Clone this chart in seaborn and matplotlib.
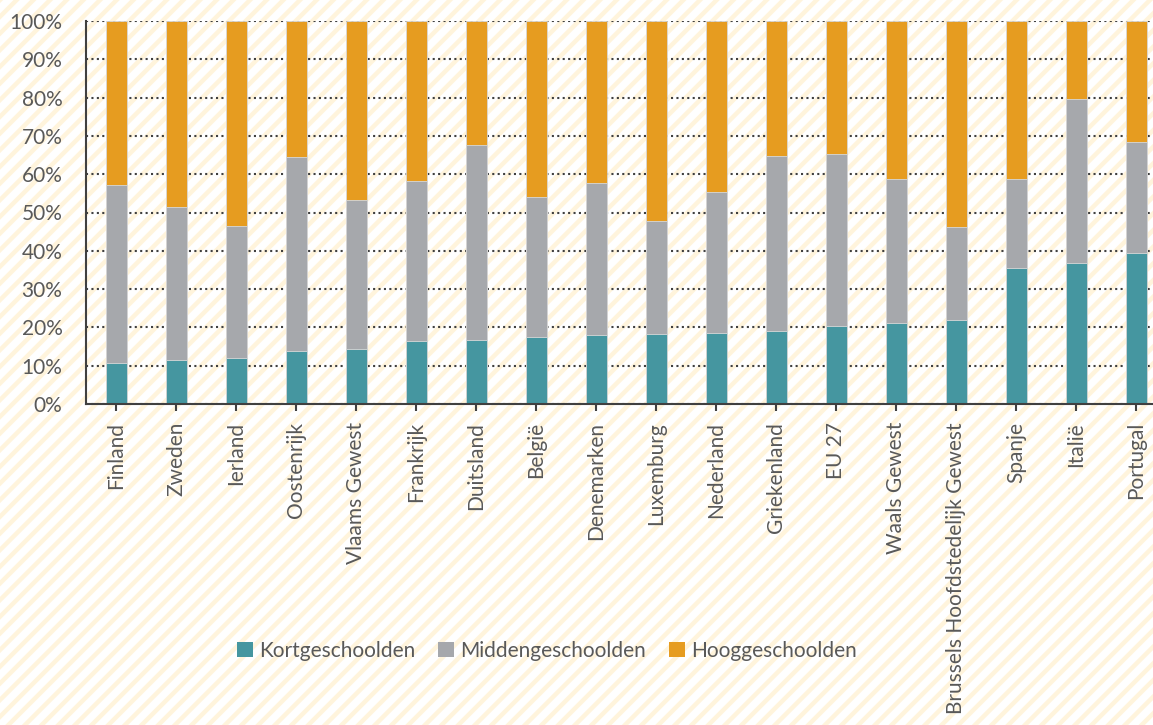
import numpy as np
import pandas as pd
import matplotlib
matplotlib.use("Agg")
import matplotlib.pyplot as plt
import seaborn as sns
from matplotlib.patches import Rectangle, Patch
from matplotlib.ticker import FuncFormatter

landen = ["Finland", "Zweden", "Ierland", "Oostenrijk", "Vlaams Gewest", "Frankrijk",
          "Duitsland", "België", "Denemarken", "Luxemburg", "Nederland", "Griekenland",
          "EU 27", "Waals Gewest", "Brussels Hoofdstedelijk Gewest", "Spanje", "Italië",
          "Portugal"]
kort = [10.8, 11.6, 12.1, 13.9, 14.4, 16.5, 16.7, 17.4, 18.1, 18.4, 18.6, 19.1,
        20.4, 21.2, 22.0, 35.6, 36.9, 39.5]
midden = [46.3, 39.8, 34.4, 50.5, 38.9, 41.7, 50.8, 36.7, 39.7, 29.3, 36.7, 45.7,
          45.0, 37.5, 24.3, 23.1, 42.7, 28.8]
hoog = [42.9, 48.6, 53.5, 35.6, 46.7, 41.8, 32.5, 45.9, 42.2, 52.3, 44.7, 35.2,
        34.6, 41.3, 53.7, 41.3, 20.4, 31.7]

reeksen = ["Kortgeschoolden", "Middengeschoolden", "Hooggeschoolden"]
kleuren = ["#4596A0", "#A6A8AC", "#E69C20"]
tekstkleur = "#595959"

df = pd.DataFrame({"land": landen, "kort": kort, "midden": midden, "hoog": hoog})
df["cum_kort"] = df["kort"]
df["cum_midden"] = df["kort"] + df["midden"]
df["cum_hoog"] = df["cum_midden"] + df["hoog"]

sns.set_style("white")
plt.rcParams["font.family"] = ["Lato", "DejaVu Sans"]
plt.rcParams["hatch.linewidth"] = 3.2
plt.rcParams["hatch.color"] = "#FFF4DC"

fig = plt.figure(figsize=(11.53, 7.25), dpi=100)

# gestreepte achtergrond
achter = Rectangle((0, 0), 1, 1, transform=fig.transFigure, facecolor="white",
                   edgecolor="#FFF4DC", hatch="//", linewidth=0, zorder=-10)
fig.patches.append(achter)

ax = fig.add_axes([86 / 1153, 321 / 725, 1080 / 1153, 383 / 725])
ax.patch.set_alpha(0)

for kol, kleur in zip(["cum_hoog", "cum_midden", "cum_kort"], kleuren[::-1]):
    sns.barplot(data=df, x="land", y=kol, color=kleur, width=0.35, ax=ax,
                edgecolor="#D8D8D8", linewidth=0.6, saturation=1, zorder=3)

ax.set_ylim(0, 100)
ax.set_xlim(-0.5, len(landen) - 0.5)
ax.set_yticks(np.arange(0, 101, 10))
ax.yaxis.set_major_formatter(FuncFormatter(lambda v, p: f"{int(v)}%"))
ax.set_xlabel("")
ax.set_ylabel("")

ax.grid(axis="y", color="#404040", linestyle=(0, (1, 1.6)), linewidth=1.5, zorder=0)
ax.grid(axis="x", visible=False)
ax.set_axisbelow(True)

for s in ["top", "right"]:
    ax.spines[s].set_visible(False)
for s in ["left", "bottom"]:
    ax.spines[s].set_color("#404040")
    ax.spines[s].set_linewidth(1.5)
    ax.spines[s].set_zorder(4)

ax.tick_params(axis="y", length=0, pad=17, labelsize=15, labelcolor=tekstkleur)
ax.tick_params(axis="x", length=5, width=1.5, color="#404040", direction="out",
               pad=8, labelsize=15, labelcolor=tekstkleur, rotation=90, bottom=True)

handles = [Patch(facecolor=k, edgecolor="none") for k in kleuren]
fig.legend(handles, reeksen, loc="center", bbox_to_anchor=(547 / 1153, 1 - 651 / 725),
           ncol=3, frameon=False, fontsize=15, labelcolor=tekstkleur,
           handlelength=0.75, handleheight=0.75, handletextpad=0.3, columnspacing=1.1)

fig.savefig("out.png", dpi=100)
